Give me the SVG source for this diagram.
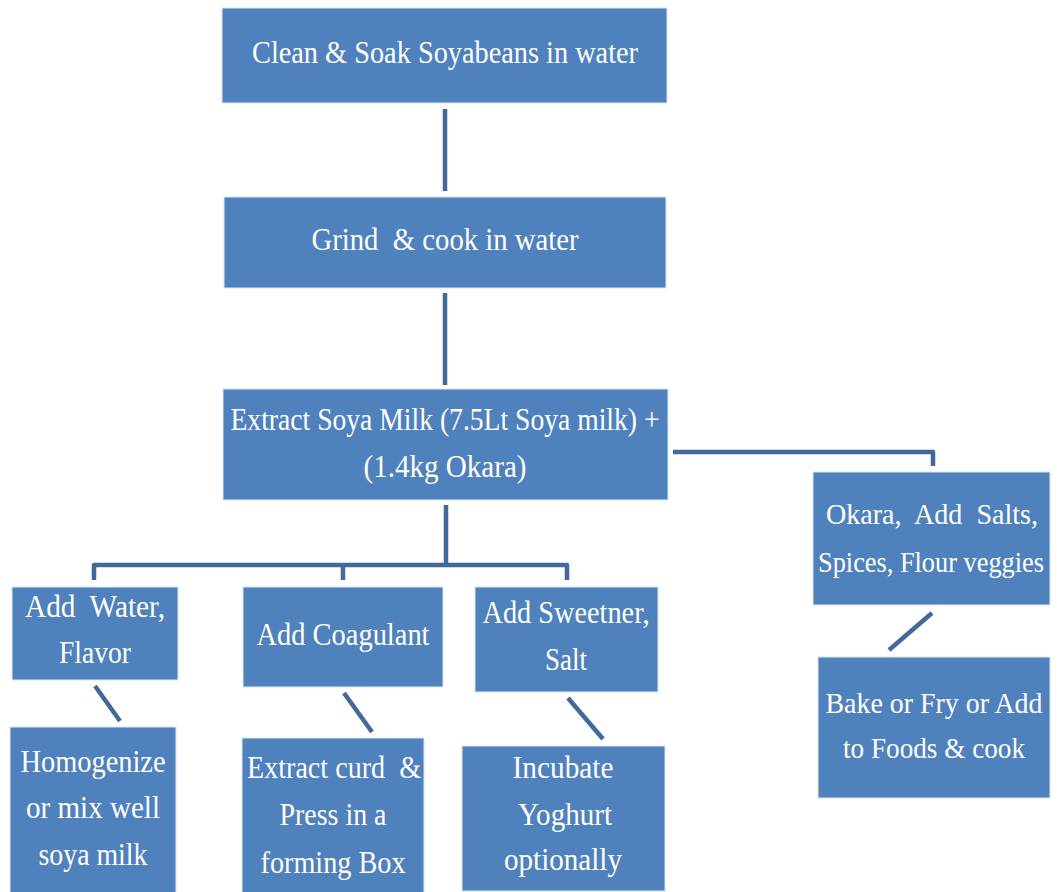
<svg xmlns="http://www.w3.org/2000/svg" width="1057" height="892" viewBox="0 0 1057 892">
<style>
.box{fill:#4F81BD;stroke:#DCE6F2;stroke-width:1}
.t{font-family:"Liberation Serif","Times New Roman",serif;font-size:32px;fill:#FFFFFF;text-anchor:middle}
.s{font-size:29px}
.c{stroke:#41699A;stroke-width:4.5;fill:none;stroke-linejoin:round}
</style>
<rect width="1057" height="892" fill="#FFFFFF"/>
<g id="connectors">
<line class="c" x1="445" y1="109" x2="445" y2="191"/>
<line class="c" x1="445" y1="293" x2="445" y2="385"/>
<line class="c" x1="446" y1="505" x2="446" y2="565"/>
<polyline class="c" points="94,580 94,565 567,565 567,580"/>
<line class="c" x1="343" y1="565" x2="343" y2="580"/>
<polyline class="c" points="673,452 933,452 933,466"/>
<line class="c" x1="932" y1="613" x2="889" y2="650"/>
<line class="c" x1="95" y1="686" x2="120" y2="721"/>
<line class="c" x1="344" y1="693" x2="372" y2="732"/>
<line class="c" x1="568" y1="698" x2="603" y2="739"/>
</g>
<g id="n1"><rect class="box" x="222" y="8" width="445" height="95"/>
<text class="t" x="445" y="63" textLength="386" lengthAdjust="spacingAndGlyphs">Clean &amp; Soak Soyabeans in water</text></g>
<g id="n2"><rect class="box" x="224" y="197" width="442" height="91"/>
<text class="t" x="445" y="250" textLength="267" lengthAdjust="spacingAndGlyphs" xml:space="preserve">Grind  &amp; cook in water</text></g>
<g id="n3"><rect class="box" x="223" y="389" width="445" height="111"/>
<text class="t" x="445" y="430" textLength="429" lengthAdjust="spacingAndGlyphs">Extract Soya Milk (7.5Lt Soya milk) +</text>
<text class="t" x="445" y="477" textLength="163" lengthAdjust="spacingAndGlyphs">(1.4kg Okara)</text></g>
<g id="n4"><rect class="box" x="12" y="587" width="166" height="93"/>
<text class="t" x="95" y="617" textLength="140" lengthAdjust="spacingAndGlyphs" xml:space="preserve">Add  Water,</text>
<text class="t" x="95" y="663" textLength="72" lengthAdjust="spacingAndGlyphs">Flavor</text></g>
<g id="n5"><rect class="box" x="243" y="587" width="200" height="100"/>
<text class="t" x="343" y="645" textLength="173" lengthAdjust="spacingAndGlyphs">Add Coagulant</text></g>
<g id="n6"><rect class="box" x="475" y="587" width="183" height="105"/>
<text class="t" x="566" y="623" textLength="167" lengthAdjust="spacingAndGlyphs">Add Sweetner,</text>
<text class="t" x="566" y="670" textLength="42" lengthAdjust="spacingAndGlyphs">Salt</text></g>
<g id="n7"><rect class="box" x="813" y="472" width="237" height="133"/>
<text class="t s" x="932" y="524" textLength="212" lengthAdjust="spacingAndGlyphs" xml:space="preserve">Okara,  Add  Salts,</text>
<text class="t s" x="931" y="572" textLength="226" lengthAdjust="spacingAndGlyphs">Spices, Flour veggies</text></g>
<g id="n8"><rect class="box" x="818" y="657" width="232" height="141"/>
<text class="t s" x="934" y="713" textLength="217" lengthAdjust="spacingAndGlyphs">Bake or Fry or Add</text>
<text class="t s" x="934" y="758" textLength="182" lengthAdjust="spacingAndGlyphs">to Foods &amp; cook</text></g>
<g id="n9"><rect class="box" x="10" y="727" width="166" height="170"/>
<text class="t" x="93" y="772" textLength="145" lengthAdjust="spacingAndGlyphs">Homogenize</text>
<text class="t" x="93" y="818" textLength="134" lengthAdjust="spacingAndGlyphs">or mix well</text>
<text class="t" x="93" y="865" textLength="109" lengthAdjust="spacingAndGlyphs">soya milk</text></g>
<g id="n10"><rect class="box" x="242" y="738" width="182" height="160"/>
<text class="t" x="334" y="778" textLength="174" lengthAdjust="spacingAndGlyphs" xml:space="preserve">Extract curd  &amp;</text>
<text class="t" x="333" y="825" textLength="107" lengthAdjust="spacingAndGlyphs">Press in a</text>
<text class="t" x="333" y="873" textLength="145" lengthAdjust="spacingAndGlyphs">forming Box</text></g>
<g id="n11"><rect class="box" x="462" y="746" width="203" height="145"/>
<text class="t" x="563" y="778" textLength="101" lengthAdjust="spacingAndGlyphs">Incubate</text>
<text class="t" x="565" y="825" textLength="94" lengthAdjust="spacingAndGlyphs">Yoghurt</text>
<text class="t" x="563" y="870" textLength="118" lengthAdjust="spacingAndGlyphs">optionally</text></g>
</svg>
